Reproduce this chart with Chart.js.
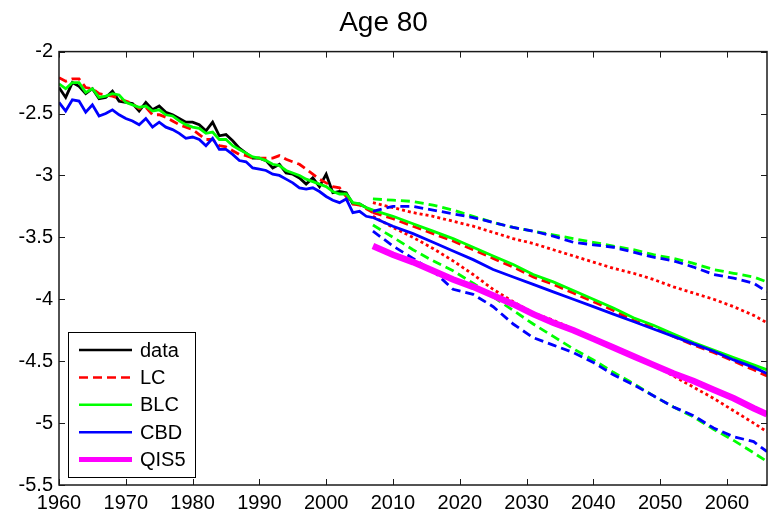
<!DOCTYPE html>
<html>
<head>
<meta charset="utf-8">
<title>Age 80</title>
<script src="https://cdn.jsdelivr.net/npm/chart.js@4.4.1/dist/chart.umd.min.js"></script>
<style>
  html, body { margin: 0; padding: 0; background: #fff; }
  canvas { display: block; }
</style>
</head>
<body>
<canvas id="ageChart" width="769" height="520"></canvas>
<script>
// observed period and fitted models (log mortality, age 80)
const histYears = [1960, 1961, 1962, 1963, 1964, 1965, 1966, 1967, 1968, 1969,
                   1970, 1971, 1972, 1973, 1974, 1975, 1976, 1977, 1978, 1979,
                   1980, 1981, 1982, 1983, 1984, 1985, 1986, 1987, 1988, 1989,
                   1990, 1991, 1992, 1993, 1994, 1995, 1996, 1997, 1998, 1999,
                   2000, 2001, 2002, 2003, 2004, 2005, 2006, 2007];

const observed = [-2.29, -2.37, -2.25, -2.28, -2.34, -2.30, -2.38, -2.37, -2.32, -2.40,
                  -2.41, -2.42, -2.48, -2.41, -2.47, -2.44, -2.49, -2.51, -2.54, -2.57,
                  -2.57, -2.59, -2.64, -2.57, -2.68, -2.67, -2.72, -2.78, -2.82, -2.86,
                  -2.86, -2.88, -2.94, -2.91, -2.98, -2.99, -3.02, -3.07, -3.02, -3.09,
                  -2.99, -3.14, -3.13, -3.14, -3.23, -3.23, -3.26];

const lcFit = [-2.21, -2.24, -2.22, -2.22, -2.29, -2.30, -2.34, -2.35, -2.36, -2.38,
               -2.40, -2.42, -2.46, -2.45, -2.51, -2.51, -2.53, -2.56, -2.59, -2.61,
               -2.63, -2.67, -2.71, -2.71, -2.76, -2.77, -2.80, -2.83, -2.84, -2.86,
               -2.86, -2.86, -2.86, -2.84, -2.87, -2.89, -2.91, -2.95, -2.99, -3.03,
               -3.06, -3.09, -3.10, -3.17, -3.23, -3.24, -3.27, -3.30];

const blcFit = [-2.26, -2.30, -2.25, -2.25, -2.33, -2.30, -2.37, -2.36, -2.34, -2.35,
                -2.41, -2.43, -2.45, -2.44, -2.48, -2.47, -2.51, -2.52, -2.56, -2.59,
                -2.61, -2.62, -2.66, -2.65, -2.71, -2.71, -2.76, -2.79, -2.82, -2.85,
                -2.86, -2.88, -2.91, -2.92, -2.96, -2.98, -3.00, -3.03, -3.05, -3.07,
                -3.09, -3.13, -3.15, -3.15, -3.22, -3.23, -3.26, -3.28];

const cbdFit = [-2.41, -2.48, -2.39, -2.40, -2.49, -2.43, -2.52, -2.50, -2.47, -2.51,
                -2.54, -2.56, -2.59, -2.54, -2.61, -2.57, -2.61, -2.63, -2.66, -2.70,
                -2.69, -2.71, -2.76, -2.70, -2.79, -2.79, -2.83, -2.88, -2.89, -2.94,
                -2.95, -2.96, -2.99, -3.00, -3.03, -3.06, -3.10, -3.11, -3.10, -3.13,
                -3.17, -3.20, -3.22, -3.19, -3.30, -3.29, -3.33, -3.34];

// projections: central path and interval bounds
const projYears = [2007, 2010, 2013, 2016, 2019, 2022, 2025, 2028, 2031, 2034, 2037,
                   2040, 2043, 2046, 2049, 2052, 2055, 2058, 2061, 2064, 2066];

const lcMid   = [-3.30, -3.35, -3.41, -3.47, -3.53, -3.60, -3.67, -3.74, -3.82, -3.88, -3.95,
                 -4.02, -4.09, -4.17, -4.23, -4.30, -4.37, -4.43, -4.50, -4.57, -4.62];
const lcHigh  = [-3.22, -3.26, -3.30, -3.33, -3.37, -3.41, -3.46, -3.51, -3.55, -3.60, -3.65,
                 -3.70, -3.75, -3.79, -3.84, -3.90, -3.95, -4.00, -4.06, -4.13, -4.19];
const lcLow   = [-3.33, -3.42, -3.50, -3.59, -3.69, -3.80, -3.92, -4.02, -4.11, -4.17, -4.24,
                 -4.31, -4.38, -4.46, -4.53, -4.62, -4.71, -4.80, -4.90, -5.00, -5.07];

const blcMid  = [-3.28, -3.33, -3.39, -3.45, -3.51, -3.58, -3.65, -3.72, -3.80, -3.86, -3.93,
                 -4.00, -4.07, -4.15, -4.21, -4.28, -4.35, -4.41, -4.47, -4.53, -4.57];
const blcHigh = [-3.19, -3.20, -3.21, -3.24, -3.28, -3.33, -3.38, -3.42, -3.45, -3.48, -3.51,
                 -3.54, -3.57, -3.60, -3.64, -3.67, -3.71, -3.76, -3.79, -3.82, -3.86];
const blcLow  = [-3.40, -3.50, -3.60, -3.69, -3.77, -3.87, -3.98, -4.09, -4.20, -4.30, -4.40,
                 -4.49, -4.59, -4.68, -4.78, -4.87, -4.95, -5.05, -5.14, -5.24, -5.31];

const cbdMid  = [-3.34, -3.41, -3.47, -3.54, -3.61, -3.68, -3.76, -3.82, -3.88, -3.94, -4.00,
                 -4.06, -4.12, -4.18, -4.24, -4.30, -4.36, -4.42, -4.49, -4.55, -4.60];
const cbdHigh = [-3.29, -3.25, -3.25, -3.28, -3.31, -3.34, -3.38, -3.42, -3.45, -3.49, -3.54,
                 -3.56, -3.58, -3.62, -3.66, -3.69, -3.74, -3.80, -3.83, -3.87, -3.94];
const cbdLow  = [-3.45, -3.57, -3.67, -3.77, -3.92, -3.96, -4.06, -4.20, -4.31, -4.37, -4.43,
                 -4.51, -4.61, -4.69, -4.78, -4.87, -4.94, -5.04, -5.11, -5.15, -5.23];

const qis5    = [-3.57, -3.64, -3.70, -3.77, -3.84, -3.90, -3.97, -4.04, -4.12, -4.19, -4.25,
                 -4.32, -4.39, -4.46, -4.53, -4.60, -4.66, -4.73, -4.80, -4.88, -4.93];

const xTicks = { min: 1960, max: 2066, step: 10 };
const yTicks = { min: -5.5, max: -2, step: 0.5 };

const FONT = '"Liberation Sans", Arial, Helvetica, sans-serif';
const DASHED = [9, 5];
const DOTTED = [3, 3];
const LW = 2.8;

const pts = (xs, ys) => ys.map((y, i) => ({ x: xs[i], y: y }));

const line = (key, data, color, width, dash, order) => ({
    key: key,
    data: data,
    borderColor: color,
    borderWidth: width,
    borderDash: dash,
    order: order,
    fill: false,
    pointRadius: 0,
    tension: 0,
});

// MATLAB-like box with inward tick marks
const frame = {
    id: 'frame',
    afterDatasetsDraw(chart) {
        const { ctx, chartArea: a, scales } = chart;
        ctx.save();
        ctx.strokeStyle = '#1a1a1a';
        ctx.lineWidth = 1;
        ctx.beginPath();
        scales.x.ticks.forEach((t) => {
            const px = Math.round(scales.x.getPixelForValue(t.value)) + 0.5;
            ctx.moveTo(px, a.bottom); ctx.lineTo(px, a.bottom - 6);
            ctx.moveTo(px, a.top); ctx.lineTo(px, a.top + 6);
        });
        scales.y.ticks.forEach((t) => {
            const py = Math.round(scales.y.getPixelForValue(t.value)) + 0.5;
            ctx.moveTo(a.left, py); ctx.lineTo(a.left + 6, py);
            ctx.moveTo(a.right, py); ctx.lineTo(a.right - 6, py);
        });
        ctx.stroke();
        ctx.lineWidth = 1.5;
        ctx.strokeRect(a.left, a.top, a.right - a.left, a.bottom - a.top);
        ctx.restore();
    }
};

// boxed key in the lower-left corner of the axes
const keyBox = {
    id: 'keyBox',
    afterDraw(chart) {
        const { ctx, chartArea: a } = chart;
        const items = chart.data.datasets.filter((d) => d.key);
        const x0 = a.left + 9, y0 = a.bottom - 153, w = 127, h = 145;
        ctx.save();
        ctx.fillStyle = '#fff';
        ctx.fillRect(x0, y0, w, h);
        ctx.strokeStyle = '#000';
        ctx.lineWidth = 1;
        ctx.strokeRect(x0 + 0.5, y0 + 0.5, w, h);
        ctx.font = '20px ' + FONT;
        ctx.textBaseline = 'middle';
        ctx.fillStyle = '#000';
        items.forEach((d, i) => {
            const y = y0 + 18 + i * 27.4;
            ctx.strokeStyle = d.borderColor;
            ctx.lineWidth = d.key === 'QIS5' ? 5 : 2.5;
            ctx.setLineDash(d.borderDash || []);
            ctx.beginPath();
            ctx.moveTo(x0 + 11, y);
            ctx.lineTo(x0 + 64, y);
            ctx.stroke();
            ctx.setLineDash([]);
            ctx.fillText(d.key, x0 + 72, y + 1);
        });
        ctx.restore();
    }
};

const RED = '#ff0000', GREEN = '#00ff00', BLUE = '#0000ff', MAGENTA = '#ff00ff';

const datasets = [
    line('data', pts(histYears, observed), '#000000', LW, [], 5),
    line('LC', pts(histYears, lcFit), RED, LW, DASHED, 4),
    line('BLC', pts(histYears, blcFit), GREEN, LW, [], 3),
    line('CBD', pts(histYears, cbdFit), BLUE, LW, [], 2),
    line('QIS5', pts(projYears, qis5), MAGENTA, 6.5, [], 1),
    line(null, pts(projYears, lcMid), RED, LW, DASHED, 4),
    line(null, pts(projYears, lcHigh), RED, LW, DOTTED, 4),
    line(null, pts(projYears, lcLow), RED, LW, DOTTED, 4),
    line(null, pts(projYears, blcMid), GREEN, LW, [], 3),
    line(null, pts(projYears, blcHigh), GREEN, LW, DASHED, 3),
    line(null, pts(projYears, blcLow), GREEN, LW, DASHED, 3),
    line(null, pts(projYears, cbdMid), BLUE, LW, [], 2),
    line(null, pts(projYears, cbdHigh), BLUE, LW, DASHED, 2),
    line(null, pts(projYears, cbdLow), BLUE, LW, DASHED, 2),
];

new Chart(document.getElementById('ageChart'), {
    type: 'line',
    data: { datasets: datasets },
    plugins: [frame, keyBox],
    options: {
        responsive: false,
        devicePixelRatio: 1,
        animation: false,
        layout: { padding: { left: 0, right: 2, top: 0, bottom: 0 } },
        plugins: {
            legend: { display: false },
            tooltip: { enabled: false },
            title: {
                display: true,
                text: 'Age 80',
                color: '#000',
                font: { family: FONT, size: 28, weight: 'normal' },
                padding: { top: 6, bottom: 12 },
            },
        },
        scales: {
            x: {
                type: 'linear',
                min: xTicks.min,
                max: xTicks.max,
                grid: { display: false, drawTicks: false },
                border: { display: false },
                ticks: {
                    stepSize: xTicks.step,
                    includeBounds: false,
                    autoSkip: false,
                    maxRotation: 0,
                    padding: 6,
                    color: '#000',
                    font: { family: FONT, size: 20 },
                    callback: (v) => String(v),
                },
                afterFit: (s) => { s.height = 35; },
            },
            y: {
                type: 'linear',
                min: yTicks.min,
                max: yTicks.max,
                grid: { display: false, drawTicks: false },
                border: { display: false },
                ticks: {
                    stepSize: yTicks.step,
                    padding: 6,
                    color: '#000',
                    font: { family: FONT, size: 20 },
                    callback: (v) => String(v),
                },
                afterFit: (s) => { s.width = 59; },
            },
        },
    },
});
</script>
</body>
</html>
